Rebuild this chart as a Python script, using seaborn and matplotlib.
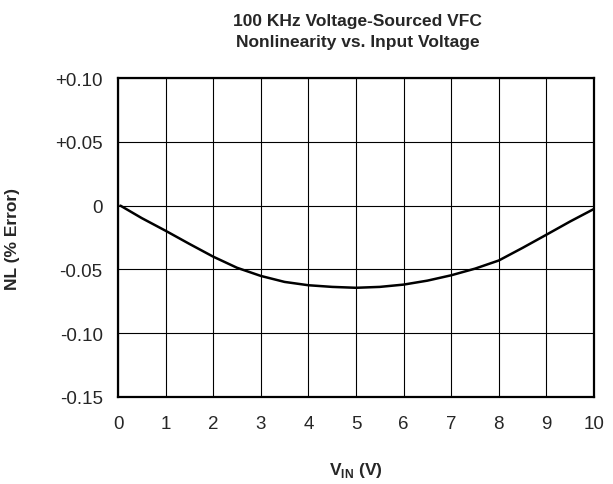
"""VFC nonlinearity vs input voltage."""
import matplotlib
matplotlib.use("Agg")
import matplotlib.pyplot as plt
import seaborn as sns
import pandas as pd

# values
vin = [0.05, 0.5, 1, 1.5, 2, 2.5, 3, 3.5, 4, 4.5, 5,
       5.5, 6, 6.5, 7, 7.5, 8, 8.5, 9, 9.5, 10]
nl_error = [0.0, -0.0098, -0.0197, -0.0300, -0.0400, -0.0487, -0.0551, -0.0598, -0.0624, -0.0637, -0.0644,
            -0.0637, -0.0619, -0.0588, -0.0546, -0.0494, -0.0430, -0.0331, -0.0228, -0.0124, -0.0026]

x_ticks = list(range(0, 11))
y_ticks = [0.10, 0.05, 0.0, -0.05, -0.10, -0.15]
y_tick_labels = ["+0.10", "+0.05", "0", "-0.05", "-0.10", "-0.15"]

sns.set_style("white")
plt.rcParams["font.family"] = ["Liberation Sans", "DejaVu Sans"]
plt.rcParams["mathtext.fontset"] = "custom"
plt.rcParams["mathtext.bf"] = "Liberation Sans:bold"

df = pd.DataFrame({"vin": vin, "nl": nl_error})

fig = plt.figure(figsize=(6.13, 4.85), dpi=100)
ax = fig.add_axes([0.1925, 0.1794, 0.7765, 0.6576])

sns.lineplot(data=df, x="vin", y="nl", ax=ax, color="black", linewidth=1.8)

ax.set_xlim(0, 10)
ax.set_ylim(-0.15, 0.10)
ax.set_xticks(x_ticks)
ax.set_xticklabels([str(t) for t in x_ticks], fontsize=13.5)
ax.set_yticks(y_ticks)
ax.set_yticklabels(y_tick_labels, fontsize=13.5)
ax.tick_params(axis="y", length=0, pad=11)
ax.tick_params(axis="x", length=0, pad=13)
ax.grid(True, color="black", linewidth=0.8)
for s in ax.spines.values():
    s.set_color("black")
    s.set_linewidth(1.6)

ax.set_xlabel(r"V$_{\mathbf{IN}}$ (V)", fontsize=12.5, fontweight="bold", labelpad=20)
ax.set_ylabel("NL (% Error)", fontsize=12.5, fontweight="bold", labelpad=25)
fig.suptitle("100 KHz Voltage-Sourced VFC\nNonlinearity vs. Input Voltage",
             x=0.583, y=0.972, fontsize=12.5, fontweight="bold", linespacing=1.5)

fig.savefig("out.png", dpi=100)
